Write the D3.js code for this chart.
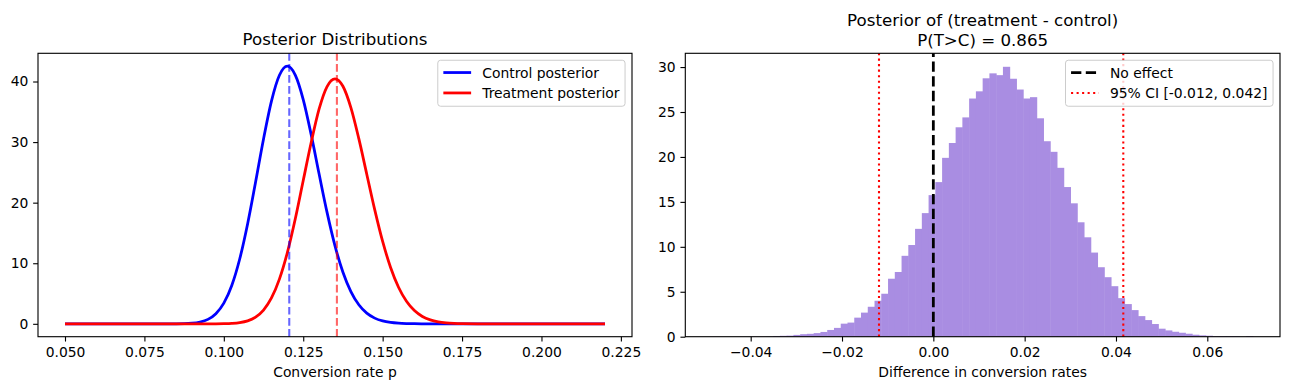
<!DOCTYPE html>
<html><head><meta charset="utf-8">
<script src="https://cdn.jsdelivr.net/npm/d3@7"></script>
<style>body{margin:0;background:#fff}svg{display:block}</style>
</head><body><svg id="c" width="1289" height="390"></svg>
<script>
// ---------- data: left panel (posterior densities) ----------
const gridX = [0.05,0.06,0.07,0.08,0.085,0.09,0.0925,0.095,0.0975,0.1,0.1025,0.105,0.1075,0.11,0.1125,0.115,0.1175,0.12,0.1225,0.125,0.1275,0.13,0.1325,0.135,0.1375,0.14,0.1425,0.145,0.1475,0.15,0.1525,0.155,0.1575,0.16,0.1625,0.165,0.1675,0.17,0.1725,0.175,0.18,0.19,0.20,0.21,0.22];
const controlDensity = [0,0,0,0.001,0.009,0.103,0.291,0.734,1.665,3.41,6.33,10.70,16.53,23.41,30.52,36.77,41.03,42.53,41.06,37.02,31.23,24.72,18.39,12.88,8.51,5.32,3.14,1.76,0.94,0.475,0.229,0.105,0.046,0.019,0.008,0.003,0.001,0,0,0,0,0,0,0,0];
const treatmentDensity = [0,0,0,0,0,0,0.0002,0.0012,0.0048,0.024,0.072,0.197,0.489,1.103,2.268,4.27,7.38,11.76,17.34,23.66,29.93,35.47,39.17,40.44,39.21,35.69,30.56,24.70,18.86,13.60,9.31,6.04,3.72,2.19,1.22,0.650,0.331,0.161,0.075,0.033,0.006,0,0,0,0];
const controlMean = 0.1206;
const treatmentMean = 0.1356;
const leftXTicks = [0.05,0.075,0.1,0.125,0.15,0.175,0.2,0.225];
const leftYTicks = [0,10,20,30,40];
const leftLegend = ["Control posterior","Treatment posterior"];

// ---------- data: right panel (histogram of difference) ----------
const histStart = -0.0484;
const histEnd = 0.0700;
const histDensity = [0.007,0,0,0,0.007,0.007,0.014,0.014,0.027,0.08,0.1,0.12,0.2,0.28,0.32,0.4,0.53,0.75,0.98,1.45,1.57,2.12,2.68,3.33,4.0,4.78,6.45,7.2,9.0,10.2,12.0,13.75,15.75,17.2,19.9,21.55,23.3,24.4,26.5,27.3,28.75,29.3,29.1,30.03,28.7,27.5,26.5,26.65,24.3,21.75,20.57,18.79,16.65,14.84,12.73,11.06,9.36,7.73,6.62,5.62,4.29,3.63,2.96,2.29,1.85,1.41,0.89,0.70,0.55,0.44,0.33,0.22,0.15,0.11,0.07,0.07,0.07,0.07,0,0.07];
const noEffect = 0;
const ciLow = -0.0119;
const ciHigh = 0.0416;
const probTgtC = 0.865;
const rightXTicks = [-0.04,-0.02,0,0.02,0.04,0.06];
const rightYTicks = [0,5,10,15,20,25,30];

// ---------- layout ----------
const PT = 100/72;
const FS = 10*PT, TFS = 12*PT;
const FONT = "DejaVu Sans, sans-serif";
const L = {x0:38, x1:632, y0:53.3, y1:336.7};
const R = {x0:685.3, x1:1280, y0:53.3, y1:336.7};
const svg = d3.select("#c");

function pad(lo, hi){ const p=(hi-lo)*0.05; return [lo-p, hi+p]; }

function axes(box, xs, ys, xt, yt, xfmt, yfmt){
  const gx = svg.append("g").attr("transform",`translate(0,${box.y1})`)
    .call(d3.axisBottom(xs).tickValues(xt).tickFormat(xfmt).tickSize(3.5*PT).tickSizeOuter(0).tickPadding(3.5*PT+1));
  const gy = svg.append("g").attr("transform",`translate(${box.x0},0)`)
    .call(d3.axisLeft(ys).tickValues(yt).tickFormat(yfmt).tickSize(3.5*PT).tickSizeOuter(0).tickPadding(3.5*PT));
  [gx,gy].forEach(g=>{
    g.select(".domain").remove();
    g.attr("font-size",FS).attr("font-family",FONT);
    g.selectAll("line").attr("stroke","#000").attr("stroke-width",0.8*PT);
    g.selectAll("text").attr("fill","#000");
  });
  svg.append("rect").attr("x",box.x0).attr("y",box.y0).attr("width",box.x1-box.x0).attr("height",box.y1-box.y0)
    .attr("fill","none").attr("stroke","#000").attr("stroke-width",0.8*PT);
}

function legend(box, items){
  const g = svg.append("g").attr("font-size",FS).attr("font-family",FONT);
  const frame = g.append("rect");
  const texts = items.map(it=>g.append("text").text(it.label).attr("fill","#000"));
  const tw = d3.max(texts, t=>t.node().getComputedTextLength());
  const w = 0.4*FS + 2*FS + 0.8*FS + tw + 0.4*FS;
  const right = box.x1 - 0.5*FS, top = box.y0 + 0.5*FS, left = right - w;
  frame.attr("x",left).attr("y",top).attr("width",w).attr("height",46).attr("rx",2.8)
    .attr("fill","#fff").attr("fill-opacity",0.8).attr("stroke","#cccccc").attr("stroke-width",1);
  items.forEach((it,i)=>{
    const cy = top + 12.3 + i*20.4;
    g.append("line").attr("x1",left+0.4*FS).attr("x2",left+2.4*FS).attr("y1",cy).attr("y2",cy)
      .attr("stroke",it.color).attr("stroke-width",it.lw).attr("stroke-dasharray",it.dash||null);
    texts[i].attr("x",left+3.2*FS).attr("y",cy).attr("dy","0.36em");
  });
}

// ---------- left panel ----------
const allDens = controlDensity.concat(treatmentDensity);
const xL = d3.scaleLinear().domain(pad(d3.min(gridX), d3.max(gridX))).range([L.x0, L.x1]);
const yL = d3.scaleLinear().domain(pad(d3.min(allDens), d3.max(allDens))).range([L.y1, L.y0]);
const lineL = d3.line().x((d,i)=>xL(gridX[i])).y(d=>yL(d)).curve(d3.curveMonotoneX);

svg.append("path").attr("d",lineL(controlDensity)).attr("fill","none").attr("stroke","#0000ff")
  .attr("stroke-width",2*PT).attr("stroke-linejoin","round");
svg.append("path").attr("d",lineL(treatmentDensity)).attr("fill","none").attr("stroke","#ff0000")
  .attr("stroke-width",2*PT).attr("stroke-linejoin","round");
[[controlMean,"#0000ff"],[treatmentMean,"#ff0000"]].forEach(([m,c])=>{
  svg.append("line").attr("x1",xL(m)).attr("x2",xL(m)).attr("y1",L.y1).attr("y2",L.y0)
    .attr("stroke",c).attr("stroke-opacity",0.6).attr("stroke-width",1.5*PT)
    .attr("stroke-dasharray",`${3.7*1.5*PT},${1.6*1.5*PT}`);
});
axes(L, xL, yL, leftXTicks, leftYTicks, d3.format(".3f"), d3.format("d"));
svg.append("text").attr("x",(L.x0+L.x1)/2).attr("y",L.y0-8).attr("text-anchor","middle")
  .attr("font-size",TFS).attr("font-family",FONT).text("Posterior Distributions");
svg.append("text").attr("x",(L.x0+L.x1)/2).attr("y",377).attr("text-anchor","middle")
  .attr("font-size",FS).attr("font-family",FONT).text("Conversion rate p");
legend(L,[
  {label:leftLegend[0],color:"#0000ff",lw:2*PT},
  {label:leftLegend[1],color:"#ff0000",lw:2*PT}
]);

// ---------- right panel ----------
const binW = (histEnd-histStart)/histDensity.length;
const bins = histDensity.map((v,i)=>({x0:histStart+i*binW, x1:histStart+(i+1)*binW, v}));
const xR = d3.scaleLinear().domain(pad(histStart, histEnd)).range([R.x0, R.x1]);
const yR = d3.scaleLinear().domain([0, d3.max(histDensity)*1.05]).range([R.y1, R.y0]);
svg.append("g").selectAll("rect").data(bins.filter(b=>b.v>0)).join("rect")
  .attr("x",d=>xR(d.x0)).attr("width",d=>xR(d.x1)-xR(d.x0)+0.5)
  .attr("y",d=>yR(d.v)).attr("height",d=>yR(0)-yR(d.v))
  .attr("fill","rgb(169,141,226)");
svg.append("line").attr("x1",xR(noEffect)).attr("x2",xR(noEffect)).attr("y1",R.y1).attr("y2",R.y0)
  .attr("stroke","#000").attr("stroke-width",2*PT).attr("stroke-dasharray",`${3.7*2*PT},${1.6*2*PT}`);
[ciLow,ciHigh].forEach(v=>{
  svg.append("line").attr("x1",xR(v)).attr("x2",xR(v)).attr("y1",R.y1).attr("y2",R.y0)
    .attr("stroke","#ff0000").attr("stroke-width",1.5*PT).attr("stroke-dasharray",`${1.5*PT},${1.65*1.5*PT}`);
});
axes(R, xR, yR, rightXTicks, rightYTicks, d=>d===0?"0.00":d3.format(".2f")(d), d3.format("d"));
const tR = svg.append("text").attr("text-anchor","middle").attr("font-size",TFS).attr("font-family",FONT);
tR.append("tspan").attr("x",(R.x0+R.x1)/2).attr("y",26).text("Posterior of (treatment - control)");
tR.append("tspan").attr("x",(R.x0+R.x1)/2).attr("y",45.5).text(`P(T>C) = ${probTgtC.toFixed(3)}`);
svg.append("text").attr("x",(R.x0+R.x1)/2).attr("y",377).attr("text-anchor","middle")
  .attr("font-size",FS).attr("font-family",FONT).text("Difference in conversion rates");
legend(R,[
  {label:"No effect",color:"#000",lw:2*PT,dash:`${3.7*2*PT},${1.6*2*PT}`},
  {label:`95% CI [${ciLow.toFixed(3)}, ${ciHigh.toFixed(3)}]`,color:"#ff0000",lw:1.5*PT,dash:`${1.5*PT},${1.65*1.5*PT}`}
]);
</script></body></html>
